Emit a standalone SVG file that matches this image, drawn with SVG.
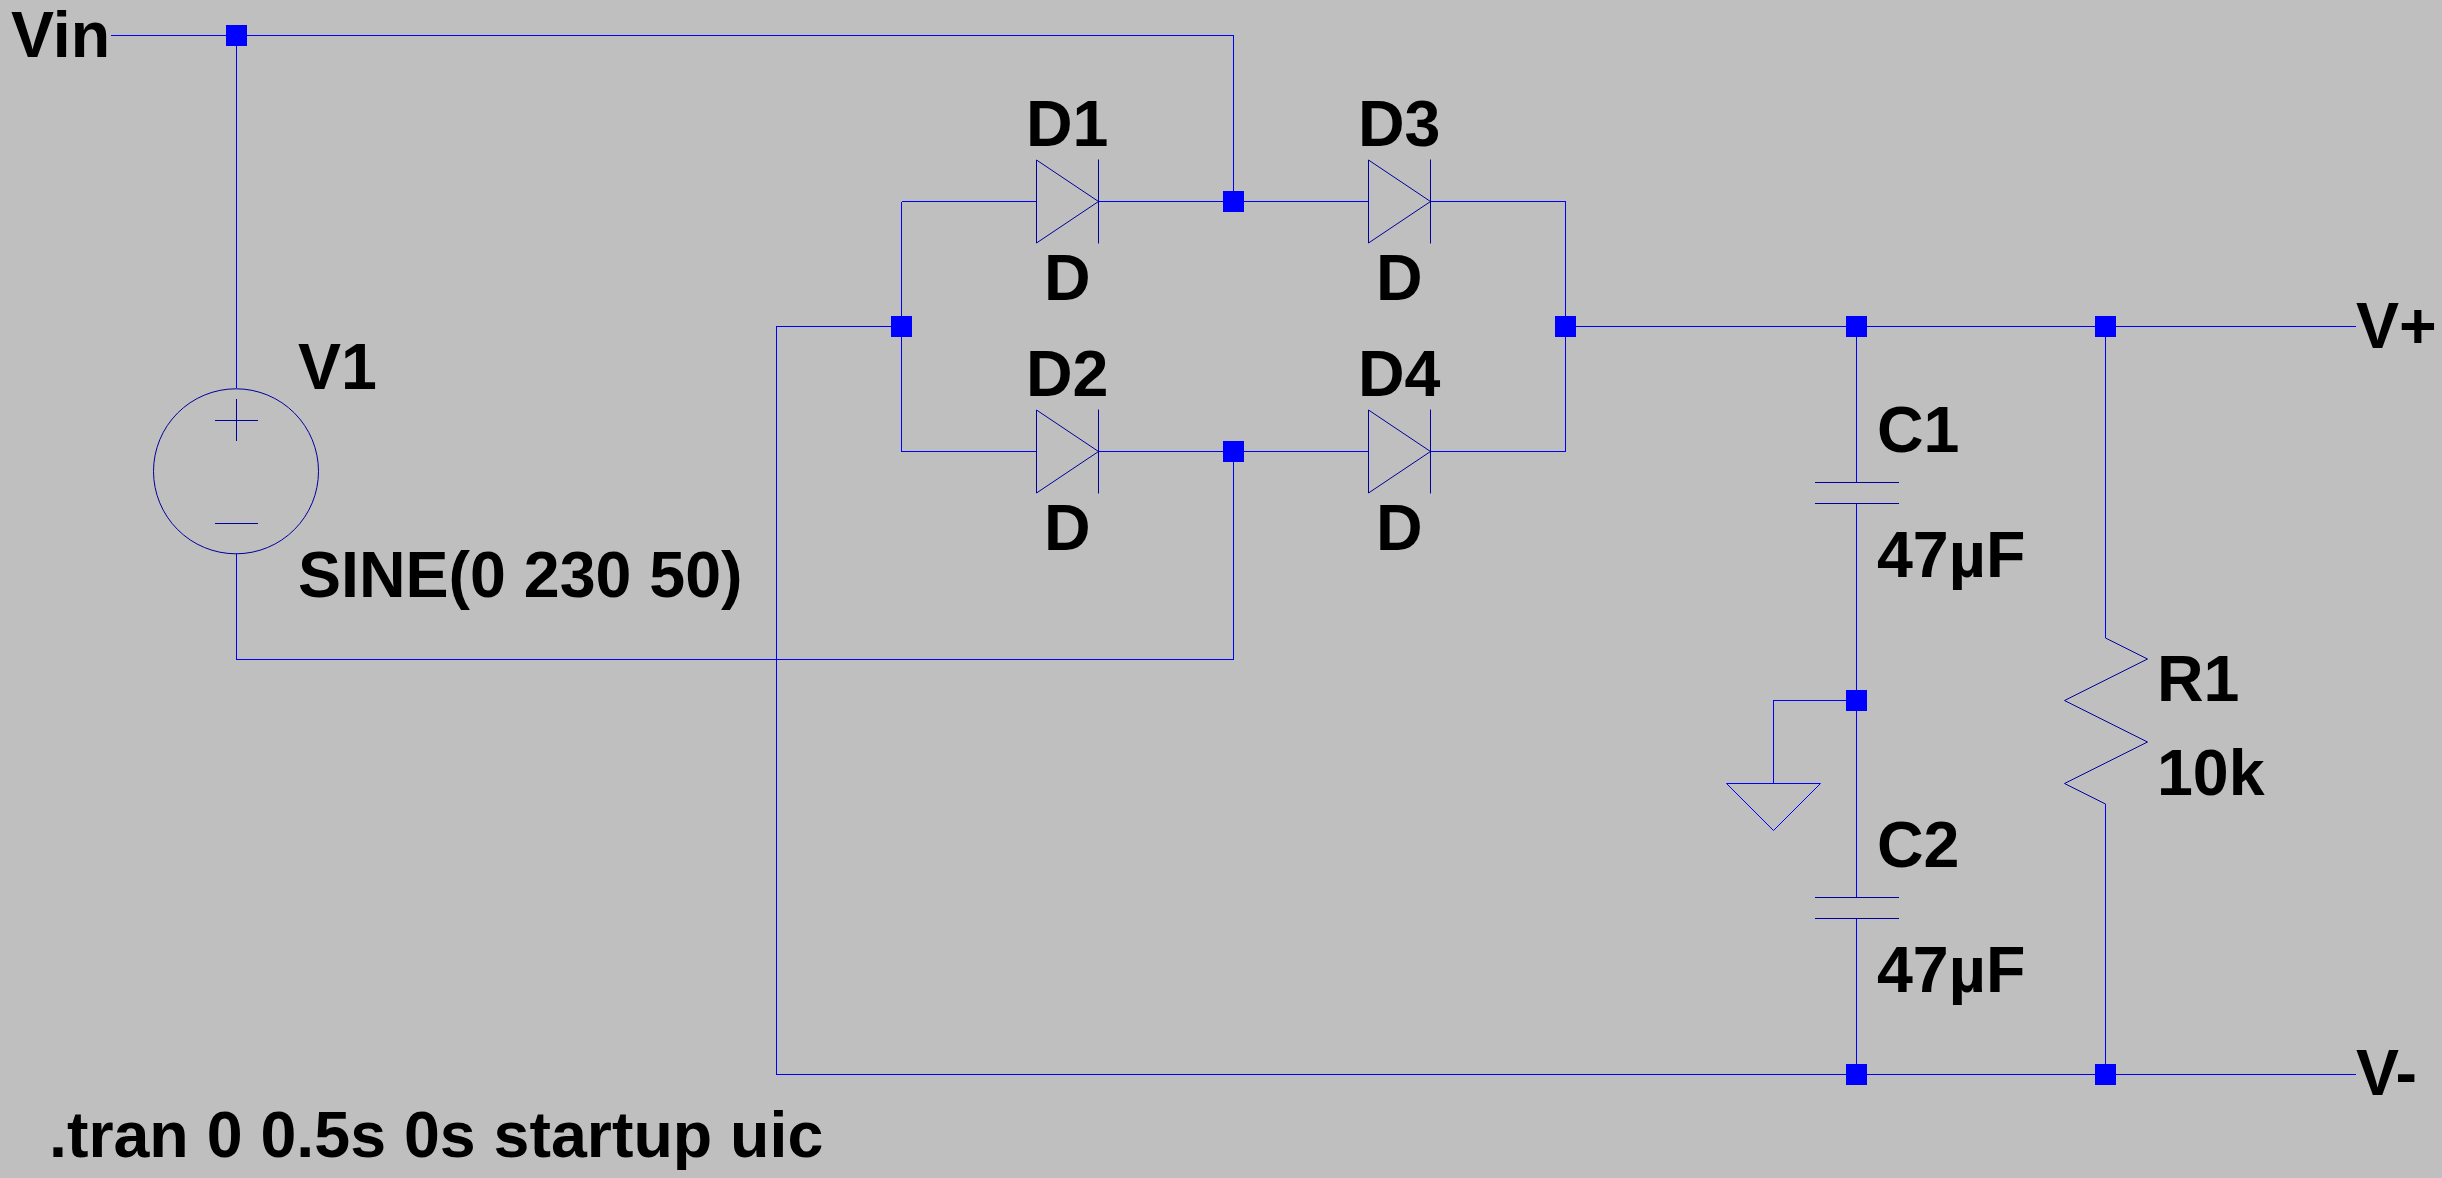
<svg xmlns="http://www.w3.org/2000/svg" width="2442" height="1178" viewBox="0 0 2442 1178">
<style>
text{font-family:"Liberation Sans",Arial,sans-serif;font-weight:700;font-size:64.5px;fill:#000}
.w{fill:none;stroke:#0000ff;stroke-width:1;shape-rendering:crispEdges}
.s{fill:none;stroke:#00009c;stroke-width:1}
.g{fill:none;stroke:#0000ff;stroke-width:1}
.c{shape-rendering:crispEdges}
.j{fill:#0000ff;shape-rendering:crispEdges}
</style>
<defs>
<rect id="dot" class="j" x="-10.5" y="-10.5" width="21" height="21"/>
<g id="diode"><path class="s" d="M0 -41.5V41.5L62 0ZM62 -42V42"/></g>
<g id="cap"><path class="s c" d="M-41.5 0H42.5M-41.5 21H42.5"/></g>
</defs>
<rect width="2442" height="1178" fill="#bfbfbf"/>
<g id="connectors">
<path class="w" d="M111 35.5H1233.5V201.5M236.5 35.5V388M236.5 554V659.5H1233.5V451.5"/>
<path class="w" d="M901.5 201.5H1036.5M1098.5 201.5H1368.5M1430.5 201.5H1565.5V451.5H1430.5M1368.5 451.5H1098.5M1036.5 451.5H901.5V201.5"/>
<path class="w" d="M901.5 326.5H776.5V1074.5H2356M1565.5 326.5H2356M1856.5 326.5V482.5M1856.5 503.5V897.5M1856.5 918.5V1074.5M2105.5 326.5V638M2105.5 804V1074.5M1856.5 700.5H1773.5V783"/>
<g>
<use href="#dot" x="236.5" y="35.5"/><use href="#dot" x="1233.5" y="201.5"/><use href="#dot" x="901.5" y="326.5"/><use href="#dot" x="1565.5" y="326.5"/><use href="#dot" x="1233.5" y="451.5"/><use href="#dot" x="1856.5" y="326.5"/><use href="#dot" x="2105.5" y="326.5"/><use href="#dot" x="1856.5" y="700.5"/><use href="#dot" x="1856.5" y="1074.5"/><use href="#dot" x="2105.5" y="1074.5"/>
</g>
</g>
<g id="Vin"><text x="11" y="57">Vin</text></g>
<g id="V1"><circle class="s" cx="236" cy="471.3" r="82.5"/><path class="s c" d="M215 420.5H258M236.5 399V441M215 523.5H258"/><text x="298" y="389">V1</text><text x="298" y="597">SINE(0 230 50)</text></g>
<g id="D1"><use href="#diode" x="1036.5" y="201.5"/><text x="1026" y="146">D1</text><text x="1044" y="300">D</text></g>
<g id="D3"><use href="#diode" x="1368.5" y="201.5"/><text x="1358" y="146">D3</text><text x="1376" y="300">D</text></g>
<g id="D2"><use href="#diode" x="1036.5" y="451.5"/><text x="1026" y="396">D2</text><text x="1044" y="550">D</text></g>
<g id="D4"><use href="#diode" x="1368.5" y="451.5"/><text x="1358" y="396">D4</text><text x="1376" y="550">D</text></g>
<g id="C1"><use href="#cap" x="1856.5" y="482.5"/><text x="1877" y="452">C1</text><text x="1877" y="577">47µF</text></g>
<g id="C2"><use href="#cap" x="1856.5" y="897.5"/><text x="1877" y="867">C2</text><text x="1877" y="992">47µF</text></g>
<g id="R1"><path class="s" d="M2105.5 638L2147.5 659L2064.5 700.5L2147.5 742L2064.5 783.5L2105.5 804"/><text x="2157" y="701">R1</text><text x="2157" y="795">10k</text></g>
<g id="GND"><path class="g" d="M1726.5 783.5H1820.5L1773.5 830.5Z"/></g>
<g id="Vplus"><text x="2356" y="348">V+</text></g>
<g id="Vminus"><text x="2356" y="1095">V-</text></g>
<g id="directive"><text x="49" y="1157">.tran 0 0.5s 0s startup uic</text></g>
</svg>
